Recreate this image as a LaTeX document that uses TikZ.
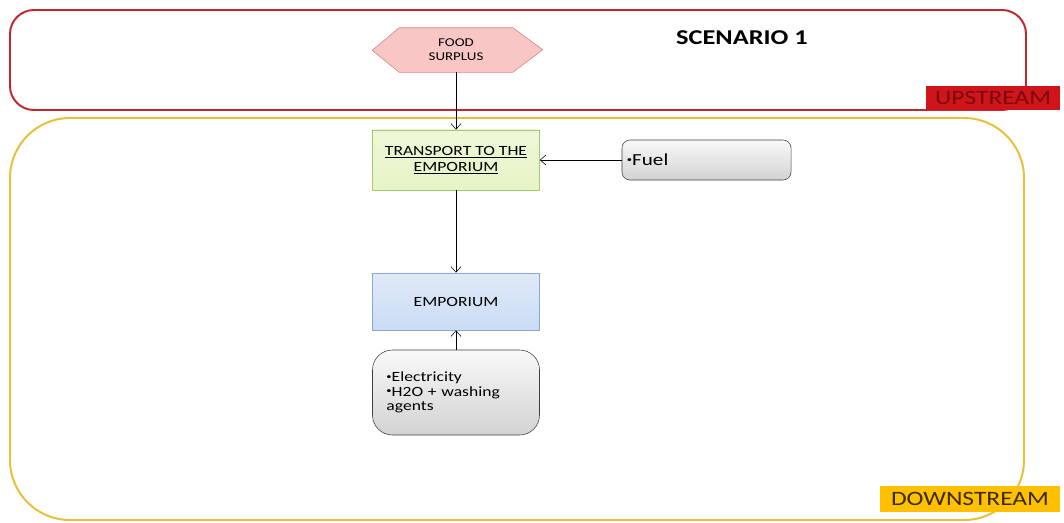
\documentclass[tikz,border=0pt]{standalone}
\usepackage{fontspec}
\setmainfont{Carlito}[FakeStretch=1.25]
\usepackage{tikz}
\usetikzlibrary{arrows.meta}
\usepackage{xcolor}

\definecolor{upred}{HTML}{C0282D}
\definecolor{upfill}{HTML}{D0141C}
\definecolor{uptext}{HTML}{7A0A0A}
\definecolor{downgold}{HTML}{E8BE3A}
\definecolor{downfill}{HTML}{FFC000}
\definecolor{downtext}{HTML}{3A2A00}
\definecolor{foodfill}{HTML}{F9C6C6}
\definecolor{fooddraw}{HTML}{D88080}
\definecolor{transfill}{HTML}{E6F4C6}
\definecolor{transdraw}{HTML}{A8C870}
\definecolor{empfill}{HTML}{CADCF4}
\definecolor{empdraw}{HTML}{88A8D8}

\newcommand{\itembullet}{\raisebox{0.35ex}{\fontsize{6}{6}\selectfont\textbullet}}

\begin{document}
\begin{tikzpicture}[x=0.025cm, y=-0.025cm, >={Straight Barb[length=4pt,width=7pt]},
                thin, font=\fontsize{10}{11}\selectfont,
                flowbox/.style={minimum width=4.175cm, align=center, inner sep=0pt},
                inputbox/.style={draw=black!75, rounded corners=0.2cm, top color=gray!5,
                    bottom color=gray!35, align=left, inner sep=0pt},
                tag/.style={inner sep=0pt, font=\fontsize{14.5}{15}\selectfont}]

                \useasboundingbox (0,0) rectangle (1064,522);

                % stage frames
                \draw[upred, line width=1.4pt, rounded corners=0.6cm] (10,10) rectangle (1026,110);
                \draw[downgold, line width=1.4pt, rounded corners=1.5cm] (10,118) rectangle (1024,520);
                \node[tag, fill=upfill, text=uptext, minimum width=3.35cm, minimum height=0.6cm] (up) at (993,98) {UPSTREAM};
                \node[tag, fill=downfill, text=downtext, minimum width=4.5cm, minimum height=0.65cm] (down) at (970,499) {DOWNSTREAM};
                \node[font=\fontsize{15}{16}\selectfont\bfseries] (title) at (742,38) {SCENARIO 1};

                % process chain
                \node[minimum width=2.825cm, minimum height=1.1cm, inner sep=0pt,
                    font=\fontsize{8.5}{10}\selectfont, align=center] (food) at (456,50) {FOOD\\SURPLUS};
                \draw[fooddraw, fill=foodfill] (food.north west) -- (food.north east) -- ++(30,22)
                    -- (food.south east) -- (food.south west) -- ++(-27,-22) -- cycle;
                \node at (food) [font=\fontsize{8.5}{10}\selectfont, align=center] {FOOD\\SURPLUS};

                \node[flowbox, draw=transdraw, top color=transfill!70!white, bottom color=transfill,
                    minimum height=1.5cm, font=\fontsize{10}{11.5}\selectfont] (transport) at (456,160)
                    {\underline{TRANSPORT TO THE}\\\underline{EMPORIUM}};
                \node[flowbox, draw=empdraw, top color=empfill!60!white, bottom color=empfill,
                    minimum height=1.425cm] (emporium) at (456,301.5) {EMPORIUM};

                % inputs
                \node[inputbox, minimum width=4.225cm, minimum height=1cm, text width=3.975cm,
                    font=\fontsize{12}{13}\selectfont] (fuel) at (706.5,160) {\itembullet Fuel};
                \node[inputbox, rounded corners=0.5cm, minimum width=4.175cm, minimum height=2.125cm,
                    text width=3.475cm, font=\fontsize{10}{10.5}\selectfont] (energy) at (456,392.5)
                    {\itembullet Electricity\\\itembullet H2O + washing\\agents};

                \draw[->] (food.south) -- (transport.north);
                \draw[->] (transport.south) -- (emporium.north);
                \draw[->] (fuel.west) -- (transport.east);
                \draw[->] (energy.north) -- (emporium.south);

            \end{tikzpicture}
\end{document}
